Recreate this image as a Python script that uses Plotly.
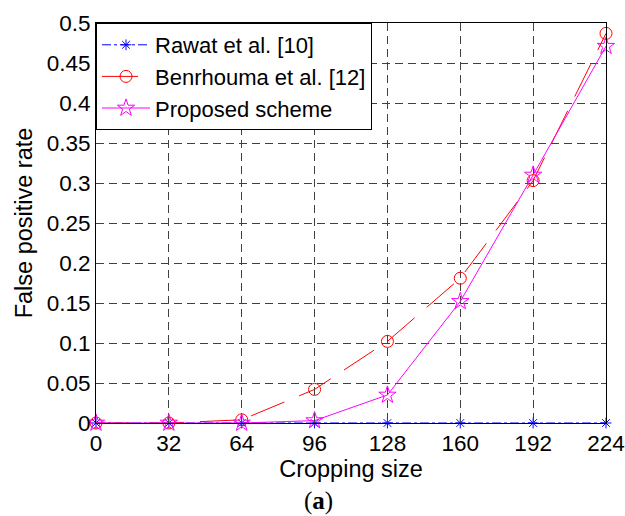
import plotly.graph_objects as go

crop_sizes = [0, 32, 64, 96, 128, 160, 192, 224]
rawat = [0, 0, 0, 0, 0, 0, 0, 0]
benrhouma = [0, 0, 0.004, 0.042, 0.102, 0.181, 0.303, 0.487]
proposed = [0, 0, 0, 0.003, 0.035, 0.152, 0.310, 0.471]
y_ticks = [0, 0.05, 0.1, 0.15, 0.2, 0.25, 0.3, 0.35, 0.4, 0.45, 0.5]
y_tick_text = ["0", "0.05", "0.1", "0.15", "0.2", "0.25", "0.3", "0.35", "0.4", "0.45", "0.5"]

FONT = "Liberation Sans, Arial, sans-serif"
TICK_FS = 22.5
TITLE_FS = 23.5

fig = go.Figure()
fig.add_trace(go.Scatter(
    x=crop_sizes, y=rawat, name="Rawat et al. [10]", mode="lines+markers",
    line=dict(color="#0000ff", width=1, dash="dashdot"),
    marker=dict(symbol="asterisk-open", size=9, color="#0000ff", line=dict(color="#0000ff", width=1)),
    cliponaxis=False,
))
fig.add_trace(go.Scatter(
    x=crop_sizes, y=benrhouma, name="Benrhouma et al. [12]", mode="lines+markers",
    line=dict(color="#ff0000", width=1, dash="36px,16px"),
    marker=dict(symbol="circle-open", size=12, color="#ff0000", line=dict(color="#ff0000", width=1)),
    cliponaxis=False,
))
fig.add_trace(go.Scatter(
    x=crop_sizes, y=proposed, name="Proposed scheme", mode="lines+markers",
    line=dict(color="#ff00ff", width=1),
    marker=dict(symbol="star-open", size=13, color="#ff00ff", line=dict(color="#ff00ff", width=1)),
    cliponaxis=False,
))

fig.update_layout(
    width=625, height=516,
    margin=dict(l=96, r=19, t=23, b=93, autoexpand=False),
    paper_bgcolor="white", plot_bgcolor="white",
    font=dict(family=FONT, size=TICK_FS, color="black"),
    showlegend=True,
    legend=dict(
        x=0, y=1, xanchor="left", yanchor="top",
        bgcolor="white", bordercolor="black", borderwidth=1,
        font=dict(family=FONT, size=22, color="black"),
        tracegroupgap=0, itemwidth=48,
    ),
    xaxis=dict(
        range=[0, 224], tickvals=crop_sizes, ticks="inside", ticklen=5,
        showline=True, linecolor="black", linewidth=1, mirror="ticks",
        showgrid=True, gridcolor="#404040", griddash="8px,5px", gridwidth=1,
        zeroline=False, automargin=False, ticklabeloverflow="allow",
        title=dict(text="Cropping size", font=dict(family=FONT, size=TITLE_FS), standoff=2),
        tickfont=dict(family=FONT, size=TICK_FS),
    ),
    yaxis=dict(
        range=[0, 0.5], tickvals=y_ticks, ticktext=y_tick_text, ticks="inside", ticklen=5,
        showline=True, linecolor="black", linewidth=1, mirror="ticks",
        showgrid=True, gridcolor="#404040", griddash="8px,5px", gridwidth=1,
        zeroline=False, automargin=False,
        title=dict(text="False positive rate", font=dict(family=FONT, size=TITLE_FS), standoff=7),
        tickfont=dict(family=FONT, size=TICK_FS),
    ),
    annotations=[dict(
        text="(<b>a</b>)", xref="paper", yref="paper", x=0.437, y=-0.155,
        xanchor="center", yanchor="top", showarrow=False,
        font=dict(family="Liberation Serif, DejaVu Serif, serif", size=25, color="black"),
    )],
)

fig.write_html(
    "out.html",
    config={"displayModeBar": False},
    post_script="document.body.style.margin='0';document.body.style.overflow='hidden';document.documentElement.style.overflow='hidden';",
)
